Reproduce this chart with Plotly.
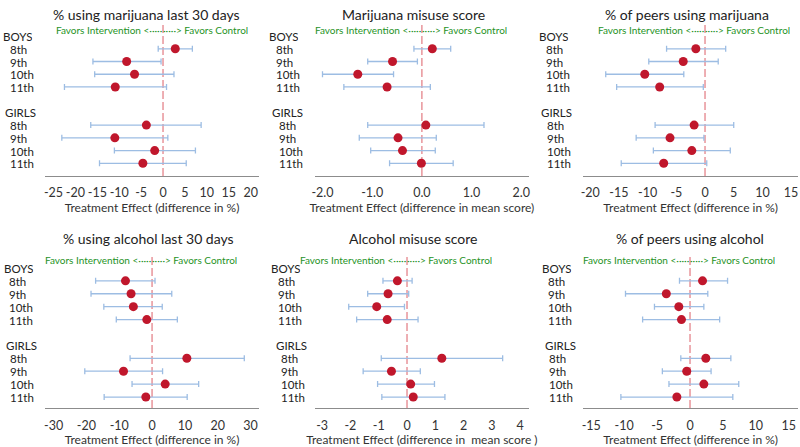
import plotly.graph_objects as go

W, H = 800, 447

grades = ["8th", "9th", "10th", "11th"]
groups = ["BOYS", "GIRLS"]

titles = ["% using marijuana last 30 days", "Marijuana misuse score", "% of peers using marijuana",
          "% using alcohol last 30 days", "Alcohol misuse score", "% of peers using alcohol"]
xtitles = ["Treatment Effect (difference in %)", "Treatment Effect (difference in mean score)",
           "Treatment Effect (difference in %)", "Treatment Effect (difference in %)",
           "Treatment Effect (difference in  mean score )", "Treatment Effect (difference in %)"]

# estimates / lower / upper: BOYS 8th-11th then GIRLS 8th-11th
mj30_est = [2.8, -8.3, -6.5, -10.9, -3.8, -11.0, -1.9, -4.6]
mj30_lo = [-1.1, -16.0, -15.6, -22.5, -16.5, -23.1, -11.1, -14.5]
mj30_hi = [6.7, -0.45, 2.5, 0.8, 8.7, 1.1, 7.4, 5.3]

mjmis_est = [0.21, -0.59, -1.29, -0.70, 0.08, -0.48, -0.39, -0.01]
mjmis_lo = [-0.16, -1.09, -2.0, -1.57, -1.09, -1.26, -1.03, -0.65]
mjmis_hi = [0.58, -0.09, -0.57, 0.17, 1.25, 0.29, 0.27, 0.63]

mjpeer_est = [-1.6, -3.8, -10.5, -7.9, -1.9, -6.1, -2.3, -7.2]
mjpeer_lo = [-6.7, -9.8, -17.3, -15.4, -8.7, -12.0, -9.0, -14.6]
mjpeer_hi = [3.6, 2.3, -3.7, -0.3, 5.0, -0.2, 4.4, 0.3]

al30_est = [-8.1, -6.4, -5.7, -1.6, 10.6, -8.7, 4.0, -1.9]
al30_lo = [-17.2, -18.6, -14.7, -10.9, -6.7, -20.5, -6.1, -14.6]
al30_hi = [0.9, 6.0, 3.1, 7.7, 28.1, 3.2, 14.2, 10.7]

almis_est = [-0.34, -0.67, -1.07, -0.70, 1.23, -0.55, 0.13, 0.22]
almis_lo = [-0.85, -1.39, -2.06, -1.78, -0.91, -1.55, -1.04, -0.89]
almis_hi = [0.18, 0.06, -0.09, 0.39, 3.38, 0.47, 0.97, 1.34]

alpeer_est = [1.9, -3.6, -1.7, -1.3, 2.4, -0.5, 2.1, -2.0]
alpeer_lo = [-1.6, -9.8, -5.4, -7.2, -1.4, -4.2, -3.2, -10.5]
alpeer_hi = [5.7, 2.7, 2.1, 4.5, 6.2, 3.2, 7.4, 6.5]

ticks_mj30 = [-25, -20, -15, -10, -5, 0, 5, 10, 15, 20]
ticks_mjmis = [-2.0, -1.0, 0.0, 1.0, 2.0]
ticks_mjpeer = [-20, -15, -10, -5, 0, 5, 10, 15]
ticks_al30 = [-30, -20, -10, 0, 10, 20, 30]
ticks_almis = [-3, -2, -1, 0, 1, 2, 3, 4]
ticks_alpeer = [-15, -10, -5, 0, 5, 10, 15]

data = [
    (mj30_est, mj30_lo, mj30_hi, ticks_mj30, [-27, 22], "{:g}"),
    (mjmis_est, mjmis_lo, mjmis_hi, ticks_mjmis, [-2.15, 2.15], "{:.1f}"),
    (mjpeer_est, mjpeer_lo, mjpeer_hi, ticks_mjpeer, [-21.2, 16.2], "{:g}"),
    (al30_est, al30_lo, al30_hi, ticks_al30, [-32.7, 32.7], "{:g}"),
    (almis_est, almis_lo, almis_hi, ticks_almis, [-3.25, 4.3], "{:g}"),
    (alpeer_est, alpeer_lo, alpeer_hi, ticks_alpeer, [-16.2, 16.4], "{:g}"),
]

# layout in pixels
xdom_px = [(41, 257), (313, 528), (583, 799)]
ydom_px = [(25, 176), (255, 408)]
yrng = [[11.0, -0.87], [10.85, -1.0]]
# (boys, girls) header x and grade x per panel
group_lab_x = [[(0, 2), (268, 271), (539, 541)], [(1, 3), (270, 275), (542, 545)]]
grade_lab_x = [[(7, 7), (275, 278), (546, 547)], [(6, 7), (277, 280), (548, 549)]]
title_x = [[143, 412, 687], [145, 412, 690]]
title_y = [15, 238]
green_y = [-0.55, -0.62]

FONT = "Lato"
fig = go.Figure()

# row positions: group header then grades, blank gap between groups
ypos_group = []
ypos_rows = []
p = 0
for g in groups:
    ypos_group.append(p)
    p += 1
    for gr in grades:
        ypos_rows.append(p)
        p += 1
    p += 1

annotations = []
shapes = []
layout_axes = {}
for i, (est, lo, hi, tv, xr, fmt) in enumerate(data):
    r, c = divmod(i, 3)
    n = i + 1
    xa = "x" if n == 1 else f"x{n}"
    ya = "y" if n == 1 else f"y{n}"
    xkey = "xaxis" if n == 1 else f"xaxis{n}"
    ykey = "yaxis" if n == 1 else f"yaxis{n}"
    x0, x1 = xdom_px[c]
    y0, y1 = ydom_px[r]
    layout_axes[xkey] = dict(
        domain=[x0 / W, x1 / W], anchor=ya, range=xr, tickvals=tv,
        ticktext=[fmt.format(v) for v in tv], showgrid=False, zeroline=False,
        showline=True, linecolor="#8c8c8c", linewidth=1, ticks="", tickangle=0,
        tickfont=dict(family=FONT, size=12.5, color="#333"), ticklabelstandoff=5 + r,
        title=dict(text=xtitles[i], font=dict(family=FONT, size=12, color="#333"), standoff=3),
    )
    layout_axes[ykey] = dict(
        domain=[1 - y1 / H, 1 - y0 / H], anchor=xa, range=yrng[r],
        showgrid=False, zeroline=False, showline=False, showticklabels=False, ticks="",
    )
    # zero reference line
    shapes.append(dict(type="line", xref=xa, yref=f"{ya} domain", x0=0, x1=0, y0=0, y1=1,
                       line=dict(color="#e8949a", width=1.5, dash="8px,3px"), layer="below"))
    fig.add_trace(go.Scatter(
        x=est, y=ypos_rows, mode="markers", xaxis=xa, yaxis=ya,
        marker=dict(color="#c0172c", size=9),
        error_x=dict(type="data", symmetric=False,
                     array=[h - e for h, e in zip(hi, est)],
                     arrayminus=[e - l for e, l in zip(est, lo)],
                     color="#9dbde3", thickness=1.3, width=3),
        showlegend=False, hoverinfo="skip"))
    # labels
    for s, (g, yy) in enumerate(zip(groups, ypos_group)):
        annotations.append(dict(text=g, xref="paper", yref=ya, x=group_lab_x[r][c][s] / W, y=yy,
                                xanchor="left", yanchor="middle", showarrow=False, xshift=-3,
                                height=12, font=dict(family=FONT, size=11.5, color="#222")))
    for k, yy in enumerate(ypos_rows):
        annotations.append(dict(text=grades[k % 4], xref="paper", yref=ya,
                                x=grade_lab_x[r][c][k // 4] / W, y=yy,
                                xanchor="left", yanchor="middle", showarrow=False, xshift=-3,
                                height=12, font=dict(family=FONT, size=11.5, color="#222")))
    annotations.append(dict(text=titles[i], xref="paper", yref="paper", x=title_x[r][c] / W,
                            y=1 - title_y[r] / H, xanchor="center", yanchor="middle", showarrow=False,
                            font=dict(family=FONT, size=14, color="#222")))
    annotations.append(dict(text="Favors Intervention <·····", xref=xa, yref=ya, x=0, y=green_y[r],
                            xanchor="right", yanchor="middle", showarrow=False, xshift=2,
                            height=11, font=dict(family=FONT, size=10, color="#1f931f")))
    annotations.append(dict(text="·····> Favors Control", xref=xa, yref=ya, x=0, y=green_y[r],
                            xanchor="left", yanchor="middle", showarrow=False, xshift=-2,
                            height=11, font=dict(family=FONT, size=10, color="#1f931f")))

fig.update_layout(width=W, height=H, margin=dict(l=0, r=0, t=0, b=0),
                  plot_bgcolor="white", paper_bgcolor="white",
                  annotations=annotations, shapes=shapes, **layout_axes)
fig.write_html("out.html", config={"displayModeBar": False},
               post_script="document.body.style.margin='0';")
